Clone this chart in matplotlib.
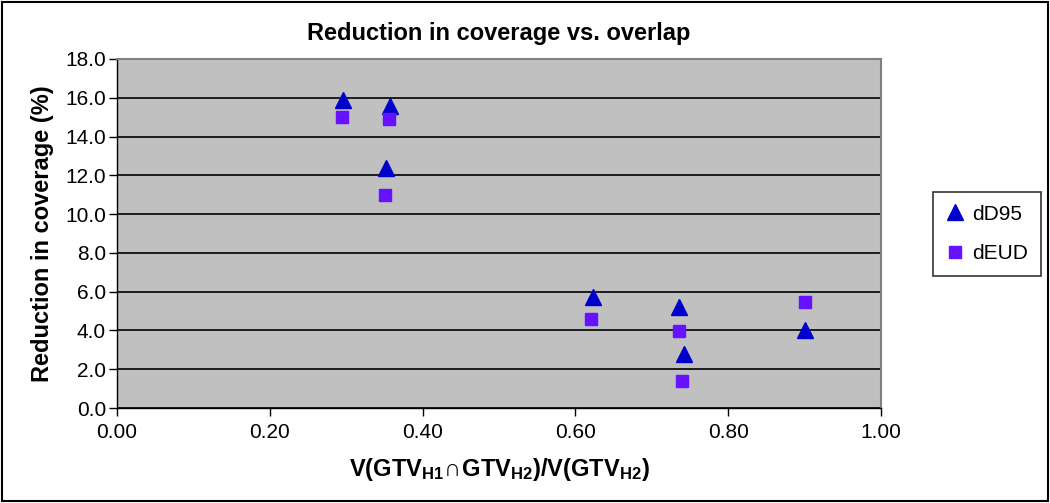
import matplotlib
matplotlib.use("Agg")
import matplotlib.pyplot as plt
from matplotlib.patches import Rectangle

plt.rcParams['font.family'] = ['Liberation Sans', 'DejaVu Sans']
plt.rcParams['mathtext.fontset'] = 'custom'
plt.rcParams['mathtext.rm'] = 'Liberation Sans:bold'
plt.rcParams['mathtext.bf'] = 'Liberation Sans:bold'
plt.rcParams['mathtext.default'] = 'bf'

title = "Reduction in coverage vs. overlap"
xlabel = r"$\mathbf{V(GTV_{H1}}\!\cap\!\mathbf{GTV_{H2})/V(GTV_{H2})}$"
ylabel = "Reduction in coverage (%)"

d95_x = [0.296, 0.357, 0.352, 0.623, 0.736, 0.742, 0.901]
d95_y = [15.9, 15.6, 12.4, 5.7, 5.2, 2.8, 4.0]
eud_x = [0.294, 0.356, 0.351, 0.621, 0.735, 0.740, 0.900]
eud_y = [15.0, 14.9, 11.0, 4.6, 3.95, 1.4, 5.45]

xticks = [0.0, 0.2, 0.4, 0.6, 0.8, 1.0]
yticks = [0, 2, 4, 6, 8, 10, 12, 14, 16, 18]

fig = plt.figure(figsize=(10.5, 5.03), dpi=100)
W, H = 1050, 503
ax = fig.add_axes([117 / W, 1 - 408 / H, (881 - 117) / W, (408 - 59) / H])
ax.set_facecolor('#c0c0c0')
ax.set_xlim(0, 1)
ax.set_ylim(0, 18)
ax.set_xticks(xticks)
ax.set_yticks(yticks)
ax.set_xticklabels([f"{v:.2f}" for v in xticks])
ax.set_yticklabels([f"{v:.1f}" for v in yticks])
ax.tick_params(labelsize=15, direction='out', length=6, color='black', width=1)
ax.tick_params(axis='y', pad=2)
ax.tick_params(axis='x', pad=5)
ax.yaxis.grid(True, color='black', linewidth=1.2)
ax.set_axisbelow(True)
for s in ax.spines.values():
    s.set_color('#808080')
    s.set_linewidth(1.5)
ax.spines['left'].set_color('black')
ax.spines['bottom'].set_color('black')
ax.spines['left'].set_linewidth(1)
ax.spines['bottom'].set_linewidth(1)

ax.plot(d95_x, d95_y, linestyle='none', marker='^', markersize=11,
        color='#0000CC', label='dD95', clip_on=False)
ax.plot(eud_x, eud_y, linestyle='none', marker='s', markersize=8.5,
        color='#6611FF', label='dEUD', clip_on=False)

ax.set_title(title, fontsize=17, fontweight='bold', pad=14)
ax.set_xlabel(xlabel, fontsize=17, labelpad=10)
ax.set_ylabel(ylabel, fontsize=17, fontweight='bold', labelpad=8)

leg = ax.legend(loc='center left', bbox_to_anchor=(933 / W, 1 - 234 / H),
                bbox_transform=fig.transFigure, fontsize=15, frameon=True,
                fancybox=False, edgecolor='black', handletextpad=0.4,
                labelspacing=1.0, borderpad=0.6, handlelength=0.9,
                borderaxespad=0)
leg.get_frame().set_linewidth(1.2)

fig.patches.append(Rectangle((0.002, 0.003), 0.996, 0.994, transform=fig.transFigure,
                             fill=False, edgecolor='black', linewidth=1.5))

fig.savefig('out.png', dpi=100, facecolor='white')
